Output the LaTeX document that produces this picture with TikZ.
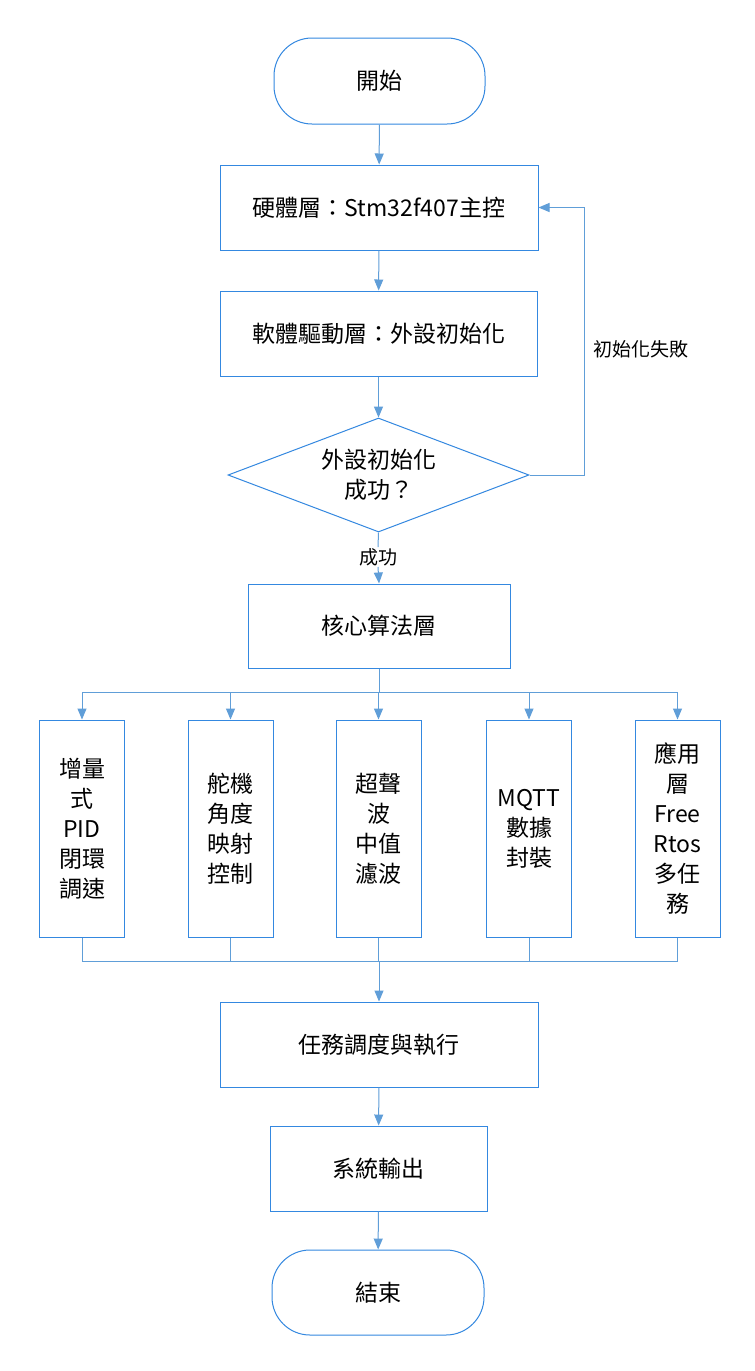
\documentclass[tikz,border=0pt]{standalone}
\usepackage{fontspec}
\setmainfont{Noto Sans CJK TC}
\usepackage{tikz}
\usetikzlibrary{arrows.meta, shapes, positioning}
\usepackage{xcolor}

\definecolor{boxblue}{RGB}{52,136,224}
\definecolor{lineblue}{RGB}{96,158,216}

\tikzset{
  box/.style={draw=boxblue, line width=1pt, fill=white, inner sep=0pt,
    font=\fontsize{23}{30}\selectfont, align=center},
  term/.style={box, rounded corners=38pt},
  tallbox/.style={box, minimum width=85pt, minimum height=217pt},
  conn/.style={draw=lineblue, line width=1pt},
  flow/.style={conn, -{Triangle[length=11pt, width=9pt]}},
  note/.style={font=\fontsize{19}{22}\selectfont, inner sep=1pt}
}

\begin{document}
\begin{tikzpicture}[x=1pt, y=-1pt]
  % page
  \fill[white] (0,0) rectangle (755,1371);
  \useasboundingbox (0,0) rectangle (755,1371);

  % main column
  \node[term, minimum width=211pt, minimum height=86pt] (start) at (379.5,81) {開始};
  \node[box, minimum width=318pt, minimum height=85pt] (hw) at (379,207.5) {硬體層：Stm32f407主控};
  \node[box, minimum width=317pt, minimum height=85pt] (sw) at (378.5,333.5) {軟體驅動層：外設初始化};
  \node[box, diamond, aspect=2.64, minimum width=301pt, minimum height=114pt] (check) at (378.5,475) {外設初始化\\成功？};
  \node[box, minimum width=262pt, minimum height=84pt] (core) at (379,626) {核心算法層};

  % modules
  \node[tallbox] (pid) at (82,828.5) {增量\\式\\PID\\閉環\\調速};
  \node[tallbox] (servo) at (230.5,828.5) {舵機\\角度\\映射\\控制};
  \node[tallbox] (sonar) at (378.5,828.5) {超聲\\波\\中值\\濾波};
  \node[tallbox] (mqtt) at (529,828.5) {MQTT\\數據\\封裝};
  \node[tallbox] (rtos) at (677.5,828.5) {應用\\層\\Free\\Rtos\\多任\\務};

  \node[box, minimum width=318pt, minimum height=85pt] (sched) at (379,1044.5) {任務調度與執行};
  \node[box, minimum width=217pt, minimum height=85pt] (output) at (378.5,1168.5) {系統輸出};
  \node[term, minimum width=212pt, minimum height=85pt] (stop) at (378,1292.5) {結束};

  % labels
  \node[note] (fail) at (641,349) {初始化失敗};
  \node[note, fill=white] (ok) at (378,557) {成功};

  % helper points
  \coordinate (back) at (584,207.5);
  \coordinate (split) at (379,692);
  \coordinate (join) at (379,961);

  % connectors
  \draw[flow] (start) -- (hw);
  \draw[flow] (hw) -- (sw);
  \draw[flow] (sw) -- (check);
  \draw[conn] (check.south) -- (ok.north);
  \draw[flow] (ok.south) -- (core.north);
  \draw[flow] (check.east) -| (back) -- (hw.east);

  \draw[conn] (core.south) -- (split);
  \foreach \m in {pid, servo, sonar, mqtt, rtos} {
      \draw[flow] (split) -| (\m.north);
      \draw[conn] (\m.south) |- (join);
    }
  \draw[flow] (join) -- (sched.north);
  \draw[flow] (sched) -- (output);
  \draw[flow] (output) -- (stop);
\end{tikzpicture}
\end{document}
